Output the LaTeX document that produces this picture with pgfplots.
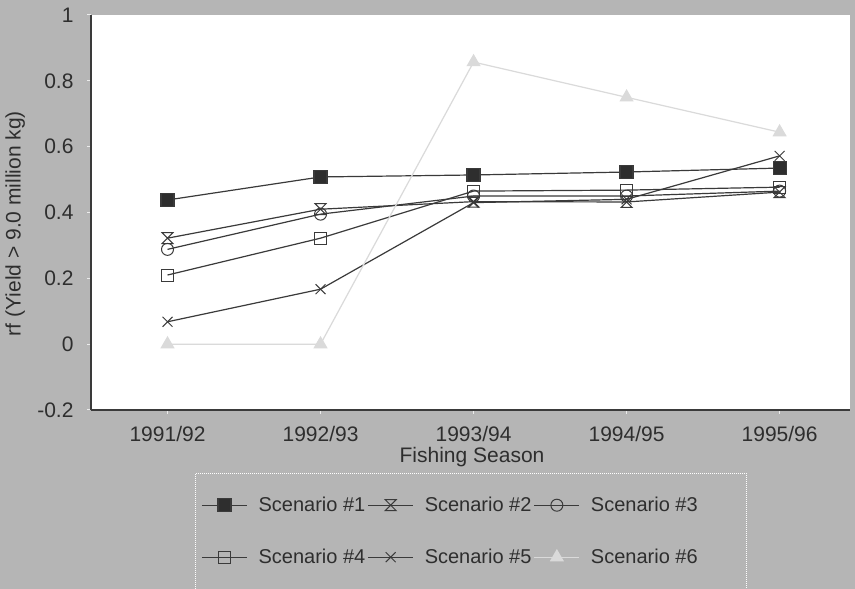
\documentclass[border=0pt]{standalone}
\usepackage{pgfplots}
\pgfplotsset{compat=1.18}
\usepackage{fontspec}
\setmainfont{Liberation Sans}
\definecolor{bg}{gray}{0.71}
\definecolor{txt}{HTML}{2E2E2E}
\definecolor{ln}{HTML}{3A3A3A}
\definecolor{light}{HTML}{DADADA}
\pgfdeclareplotmark{hourglass}{%
  \pgfpathmoveto{\pgfqpoint{-\pgfplotmarksize}{\pgfplotmarksize}}%
  \pgfpathlineto{\pgfqpoint{\pgfplotmarksize}{\pgfplotmarksize}}%
  \pgfpathlineto{\pgfqpoint{-\pgfplotmarksize}{-\pgfplotmarksize}}%
  \pgfpathlineto{\pgfqpoint{\pgfplotmarksize}{-\pgfplotmarksize}}%
  \pgfpathclose
  \pgfusepathqstroke}
\begin{document}
\begin{tikzpicture}
\useasboundingbox (0,0) rectangle (855pt,589pt);
\fill[bg] (0,0) rectangle (855pt,589pt);
\begin{axis}[
  at={(91pt,179pt)}, anchor=south west,
  scale only axis, width=759pt, height=395pt,
  xmin=-0.5, xmax=4.46, ymin=-0.2, ymax=1,
  axis lines=left, axis line style={-, ln, line width=1.2pt},
  axis background/.style={fill=white},
  xtick={0,1,2,3,4},
  xticklabels={1991/92,1992/93,1993/94,1994/95,1995/96},
  ytick={-0.2,0,0.2,0.4,0.6,0.8,1},
  yticklabels={-0.2,0,0.2,0.4,0.6,0.8,1},
  tick align=outside, major tick length=4pt,
  tick style={white!85!gray, line width=1pt},
  font=\fontsize{21}{24}\selectfont,
  tick label style={text=txt, font=\fontsize{21}{24}\selectfont},
  xticklabel style={yshift=-9pt},
  yticklabel style={xshift=-10pt},
  xlabel={Fishing Season},
  xlabel style={at={(axis description cs:0.502,-0.119)}, anchor=center, text=txt, font=\fontsize{21}{24}\selectfont},
  ylabel={rf (Yield > 9.0 million kg)},
  ylabel style={at={(axis description cs:-0.100,0.472)}, anchor=center, rotate=0, text=txt, font=\fontsize{21}{24}\selectfont},
  legend columns=3,
  legend cell align=left,
  legend style={at={(axis description cs:0.137,-0.159)}, anchor=north west,
    draw=white, dash pattern=on 1pt off 1pt, line width=0.8pt, fill=bg, text=txt,
    font=\fontsize{20}{23}\selectfont,
    inner xsep=6pt, inner ysep=21pt, row sep=30pt,
    /tikz/every odd column/.append style={column sep=8pt},
    /tikz/every even column/.append style={column sep=0pt},
    nodes={inner sep=3pt}},
  legend image code/.code={
    \draw[mark repeat=2, mark phase=2, solid, #1] plot coordinates {(0pt,0pt) (22.5pt,0pt) (45pt,0pt)};},
  every axis plot/.append style={line width=1.2pt},
]
\addplot[ln, mark=square*, mark size=6.5pt, mark options={solid, fill=ln!80!black}] coordinates {(0,0.438) (1,0.508) (2,0.514) (3,0.523) (4,0.535)};
\addlegendentry{\makebox[106pt][l]{Scenario \#1}}
\addplot[ln, mark=hourglass, mark size=5.5pt, mark options={solid, line width=1pt}] coordinates {(0,0.322) (1,0.41) (2,0.433) (3,0.432) (4,0.462)};
\addlegendentry{\makebox[106pt][l]{Scenario \#2}}
\addplot[ln, mark=o, mark size=6pt, mark options={solid, fill=white, line width=1pt}] coordinates {(0,0.288) (1,0.395) (2,0.45) (3,0.45) (4,0.465)};
\addlegendentry{\makebox[146pt][l]{Scenario \#3}}
\addplot[ln, mark=square, mark size=6pt, mark options={solid, fill=white, line width=1pt}] coordinates {(0,0.21) (1,0.322) (2,0.465) (3,0.468) (4,0.477)};
\addlegendentry{\makebox[106pt][l]{Scenario \#4}}
\addplot[ln, mark=x, mark size=7pt, mark options={solid, line width=1pt}] coordinates {(0,0.068) (1,0.167) (2,0.43) (3,0.44) (4,0.572)};
\addlegendentry{\makebox[106pt][l]{Scenario \#5}}
\addplot[light, mark=triangle*, mark size=7pt, mark options={solid, fill=light}] coordinates {(0,0) (1,0) (2,0.857) (3,0.75) (4,0.644)};
\addlegendentry{\makebox[146pt][l]{Scenario \#6}}
\end{axis}
\end{tikzpicture}
\end{document}
